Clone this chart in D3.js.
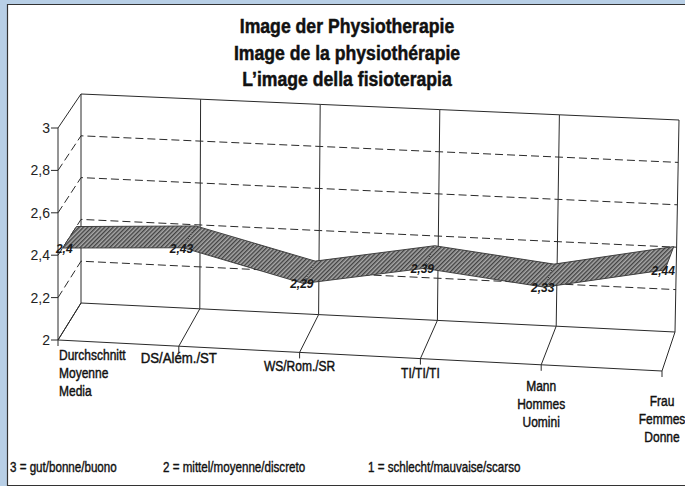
<!DOCTYPE html>
<html>
<head>
<meta charset="utf-8">
<script src="https://cdn.jsdelivr.net/npm/d3@7"></script>
<style>
    html, body { margin: 0; padding: 0; background: #b8cfe6; }
    #chart { width: 685px; height: 486px; }
</style>
</head>
<body>
<div id="chart"></div>
<script>
    // data
    var titleLines = ["Image der Physiotherapie", "Image de la physiothérapie", "L\u2019image della fisioterapia"]
    var categories = [
        ["Durchschnitt", "Moyenne", "Media"],
        ["DS/Além./ST"],
        ["WS/Rom./SR"],
        ["TI/TI/TI"],
        ["Mann", "Hommes", "Uomini"],
        ["Frau", "Femmes", "Donne"]
    ]
    var values = [2.4, 2.43, 2.29, 2.39, 2.33, 2.44]
    var yTicks = [2, 2.2, 2.4, 2.6, 2.8, 3]
    var scaleNotes = ["3 = gut/bonne/buono", "2 = mittel/moyenne/discreto", "1 = schlecht/mauvaise/scarso"]

    var width = 685
    var height = 486
    var condensed = 0.8
    var ink = "#2a2a2a"
    var sans = "Liberation Sans, Arial, sans-serif"

    var locale = d3.formatLocale({ decimal: ",", thousands: ".", grouping: [3], currency: ["", ""] })
    var fmt = locale.format("~g")

    var svg = d3.select("#chart")
        .append("svg")
        .attr("width", width)
        .attr("height", height)

    // paper with scan border
    svg.append("rect")
        .attr("x", 7).attr("y", 4)
        .attr("width", width - 7).attr("height", 481)
        .attr("fill", "#fff")
    svg.append("path")
        .attr("d", "M" + width + ",4.5 H7.5 V485.5 H" + width)
        .attr("fill", "none")
        .attr("stroke", "#333")
        .attr("stroke-width", 1.2)

    var defs = svg.append("defs")
    var pat = defs.append("pattern")
        .attr("id", "hatch")
        .attr("patternUnits", "userSpaceOnUse")
        .attr("width", 3).attr("height", 3)
        .attr("patternTransform", "rotate(45)")
    pat.append("rect").attr("width", 3).attr("height", 3).attr("fill", "#a8a8a8")
    pat.append("rect").attr("width", 1.4).attr("height", 3).attr("fill", "#424242")

    // oblique 3d box: front plane, back wall, category index along the floor
    var n = categories.length - 1
    var xFront = d3.scaleLinear().domain([0, n]).range([58, 662])
    var yFront = d3.scaleLinear().domain([0, n]).range([340, 371])
    var xBack = d3.scaleLinear().domain([0, n]).range([81, 675])
    var yBack = d3.scaleLinear().domain([0, n]).range([303, 332])
    var hBack = d3.scaleLinear().domain([0, n]).range([209, 212])
    var lift = d3.scaleLinear().domain([2, 3]).range([0, 1])
    var hFront = 212

    function proj(i, v, z) {
        var t = lift(v)
        var x0 = xFront(i) + (xBack(i) - xFront(i)) * z
        var y0 = yFront(i) + (yBack(i) - yFront(i)) * z
        var h = hFront + (hBack(i) - hFront) * z
        var lean = 4 * z * i / n
        return [x0 + t * lean, y0 - t * h]
    }

    var line = d3.line()
    var grid = svg.append("g").attr("fill", "none").attr("stroke", ink).attr("stroke-width", 1)

    // dashed value lines on side wall and back wall
    yTicks.filter(function (v) { return v > 2 && v < 3 }).forEach(function (v) {
        var pts = [proj(0, v, 0), proj(0, v, 1)]
        d3.range(1, n + 1).forEach(function (i) { pts.push(proj(i, v, 1)) })
        grid.append("path").attr("d", line(pts)).attr("stroke-dasharray", "8,4")
    })

    // solid frame: top of walls, floor outline
    var topPts = [proj(0, 3, 0), proj(0, 3, 1)]
    var backFloor = [proj(0, 2, 0), proj(0, 2, 1)]
    d3.range(1, n + 1).forEach(function (i) {
        topPts.push(proj(i, 3, 1))
        backFloor.push(proj(i, 2, 1))
    })
    grid.append("path").attr("d", line(topPts))
    grid.append("path").attr("d", line(backFloor))

    // back wall verticals and floor depth lines at each category
    d3.range(0, n + 1).forEach(function (i) {
        grid.append("path").attr("d", line([proj(i, 2, 1), proj(i, 3, 1)]))
        grid.append("path").attr("d", line([proj(i, 2, 0), proj(i, 2, 1)]))
    })

    // front floor edge and value axis
    grid.append("path").attr("d", line([proj(0, 2, 0), proj(n, 2, 0)]))
    grid.append("path").attr("d", line([proj(0, 2, 0), proj(0, 3, 0)]))

    // value ticks
    yTicks.forEach(function (v) {
        var p = proj(0, v, 0)
        grid.append("path").attr("d", line([[p[0] - 7, p[1]], p]))
        svg.append("text")
            .attr("x", p[0] - 8)
            .attr("y", p[1] + 5)
            .attr("text-anchor", "end")
            .attr("font-family", sans)
            .attr("font-size", 14)
            .attr("fill", "#222")
            .text(fmt(v))
    })

    // category ticks
    d3.range(0, n + 1).forEach(function (i) {
        var p = proj(i, 2, 0)
        grid.append("path").attr("d", line([p, [p[0], p[1] + 6]]))
    })

    // ribbon
    var z0 = 0.2
    var z1 = 0.8
    var ribbon = svg.append("g")
    d3.range(0, n).forEach(function (i) {
        var quad = [proj(i, values[i], z0), proj(i + 1, values[i + 1], z0),
            proj(i + 1, values[i + 1], z1), proj(i, values[i], z1)]
        ribbon.append("path")
            .attr("d", line(quad) + "Z")
            .attr("fill", "url(#hatch)")
            .attr("stroke", "none")
    })
    var front = values.map(function (v, i) { return proj(i, v, z0) })
    var back = values.map(function (v, i) { return proj(i, v, z1) })
    ribbon.append("path")
        .attr("d", line(front.concat(back.slice().reverse())) + "Z")
        .attr("fill", "none")
        .attr("stroke", "#333")
        .attr("stroke-width", 0.9)
    d3.range(1, n).forEach(function (i) {
        ribbon.append("path")
            .attr("d", line([front[i], back[i]]))
            .attr("fill", "none")
            .attr("stroke", "#222")
            .attr("stroke-width", 1)
            .attr("stroke-dasharray", "1,1.5")
    })

    // value labels
    svg.selectAll(".vlabel")
        .data(values)
        .enter().append("text")
        .attr("class", "vlabel")
        .attr("x", function (d, i) { return front[i][0] + 10 })
        .attr("y", function (d, i) { return front[i][1] + 5 })
        .attr("text-anchor", "end")
        .attr("font-family", sans)
        .attr("font-size", 12)
        .attr("font-style", "italic")
        .attr("font-weight", "bold")
        .attr("fill", "#1a1a1a")
        .text(function (d) { return fmt(d) })

    // category labels (condensed), drop below floor edge differs per label
    var labelDrop = [20, 17, 19, 19, 26, 35]
    var lineGap = 18
    categories.forEach(function (lines, i) {
        var p = proj(i, 2, 0)
        var anchor = i == 0 ? "start" : "middle"
        var x = i == 0 ? p[0] + 1 : p[0]
        lines.forEach(function (s, k) {
            svg.append("text")
                .attr("transform", "translate(" + x + "," + (p[1] + labelDrop[i] + k * lineGap) + ") scale(" + (i == 1 ? 0.88 : condensed) + ",1)")
                .attr("text-anchor", anchor)
                .attr("font-family", sans)
                .attr("font-size", 15)
                .attr("fill", "#111")
                .attr("stroke", "#111")
                .attr("stroke-width", 0.45)
                .text(s)
        })
    })

    // title
    titleLines.forEach(function (s, k) {
        svg.append("text")
            .attr("transform", "translate(347," + (33 + k * 26.5) + ") scale(0.86,1)")
            .attr("text-anchor", "middle")
            .attr("font-family", sans)
            .attr("font-size", 20.5)
            .attr("font-weight", "bold")
            .attr("fill", "#111")
            .attr("stroke", "#111")
            .attr("stroke-width", 0.5)
            .text(s)
    })

    // rating key at the bottom
    var noteX = [10, 163, 368]
    scaleNotes.forEach(function (s, k) {
        svg.append("text")
            .attr("transform", "translate(" + noteX[k] + ",472) scale(" + condensed + ",1)")
            .attr("font-family", sans)
            .attr("font-size", 14.5)
            .attr("fill", "#111")
            .attr("stroke", "#111")
            .attr("stroke-width", 0.4)
            .text(s)
    })
</script>
</body>
</html>
